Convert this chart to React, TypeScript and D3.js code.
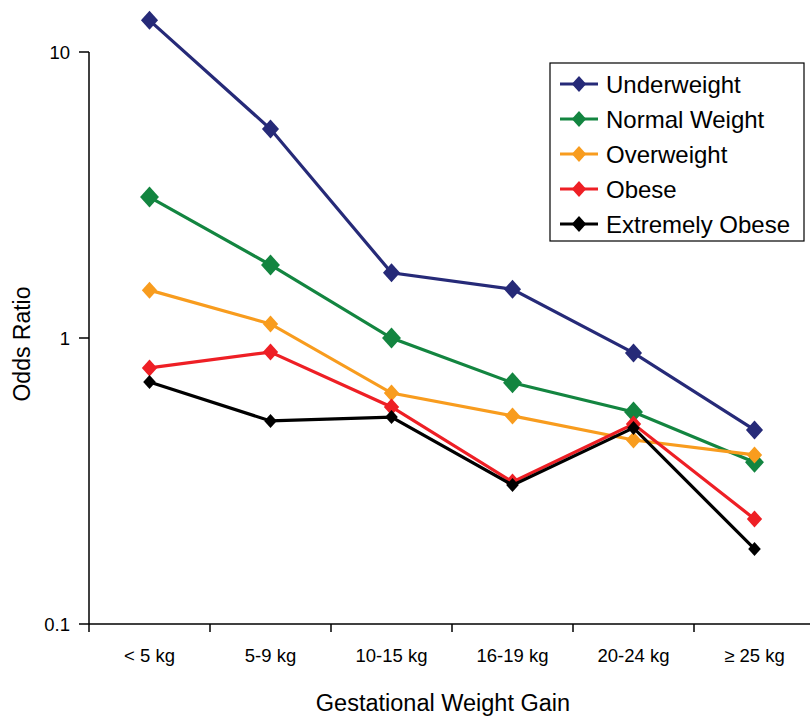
import React from "react";
import * as d3 from "d3";

const categories = ["< 5 kg", "5-9 kg", "10-15 kg", "16-19 kg", "20-24 kg", "\u2265 25 kg"];
const seriesNames = ["Underweight", "Normal Weight", "Overweight", "Obese", "Extremely Obese"];
const underweight = [12.9, 5.38, 1.69, 1.48, 0.887, 0.477];
const normalWeight = [3.11, 1.8, 1.0, 0.697, 0.551, 0.368];
const overweight = [1.47, 1.12, 0.642, 0.534, 0.44, 0.39];
const obese = [0.786, 0.893, 0.574, 0.314, 0.5, 0.233];
const extremelyObese = [0.702, 0.513, 0.529, 0.306, 0.485, 0.183];
const yTicks = [0.1, 1, 10];
const yTickLabels = ["0.1", "1", "10"];

const colors = ["#262a78", "#138540", "#f89c1e", "#ee1f25", "#000000"];
const markerSizes = [9.5, 10.5, 8.5, 8.5, 7];
const allSeries = [underweight, normalWeight, overweight, obese, extremelyObese];

export default function App() {
  const W = 810, H = 716;
  const x0 = 89, x1 = 815;
  const yTop = 52, yBot = 624;
  const x = d3.scaleBand<string>().domain(categories).range([x0, x1]);
  const y = d3.scaleLog().domain([0.1, 10]).range([yBot, yTop]);
  const line = d3.line<number>()
    .x((_, i) => (x(categories[i]) as number) + x.bandwidth() / 2)
    .y((d) => y(d));
  const diamond = (cx: number, cy: number, s: number) =>
    `M${cx},${cy - s}L${cx + s * 0.9},${cy}L${cx},${cy + s}L${cx - s * 0.9},${cy}Z`;
  const font = "'Liberation Sans', Arial, sans-serif";
  const bounds = categories.map((c) => x(c) as number).concat([x1]);
  return (
    <svg width={W} height={H} style={{ position: "absolute", left: 0, top: 0, background: "#fff" }} fontFamily={font}>
      {/* axes */}
      <line x1={x0} y1={yTop} x2={x0} y2={yBot} stroke="#000" strokeWidth={1.5} />
      <line x1={x0} y1={yBot} x2={W} y2={yBot} stroke="#000" strokeWidth={1.5} />
      {yTicks.map((t, i) => (
        <g key={t}>
          <line x1={x0 - 10} x2={x0} y1={y(t)} y2={y(t)} stroke="#000" strokeWidth={1.5} />
          <text x={x0 - 19} y={y(t)} dy="0.36em" textAnchor="end" fontSize={18.5}>{yTickLabels[i]}</text>
        </g>
      ))}
      {bounds.map((b, i) => (
        <line key={i} x1={b} x2={b} y1={yBot} y2={yBot + 8} stroke="#000" strokeWidth={1.5} />
      ))}
      {categories.map((c) => (
        <text key={c} x={(x(c) as number) + x.bandwidth() / 2} y={662} textAnchor="middle" fontSize={18.5}>{c}</text>
      ))}
      <text x={443} y={711} textAnchor="middle" fontSize={23.5}>Gestational Weight Gain</text>
      <text transform={`translate(30,344) rotate(-90)`} textAnchor="middle" fontSize={23}>Odds Ratio</text>
      {/* series */}
      {allSeries.map((s, si) => (
        <g key={si}>
          <path d={line(s) || ""} fill="none" stroke={colors[si]} strokeWidth={3.2} />
          {s.map((v, i) => (
            <path key={i} d={diamond((x(categories[i]) as number) + x.bandwidth() / 2, y(v), markerSizes[si])} fill={colors[si]} />
          ))}
        </g>
      ))}
      {/* legend */}
      <rect x={550} y={63} width={254} height={178} fill="#fff" stroke="#000" strokeWidth={1.2} />
      {seriesNames.map((n, i) => {
        const ly = 84 + i * 35;
        return (
          <g key={n}>
            <line x1={560} x2={598} y1={ly} y2={ly} stroke={colors[i]} strokeWidth={3} />
            <path d={diamond(579, ly, 8)} fill={colors[i]} />
            <text x={606} y={ly} dy="0.36em" fontSize={24}>{n}</text>
          </g>
        );
      })}
    </svg>
  );
}
